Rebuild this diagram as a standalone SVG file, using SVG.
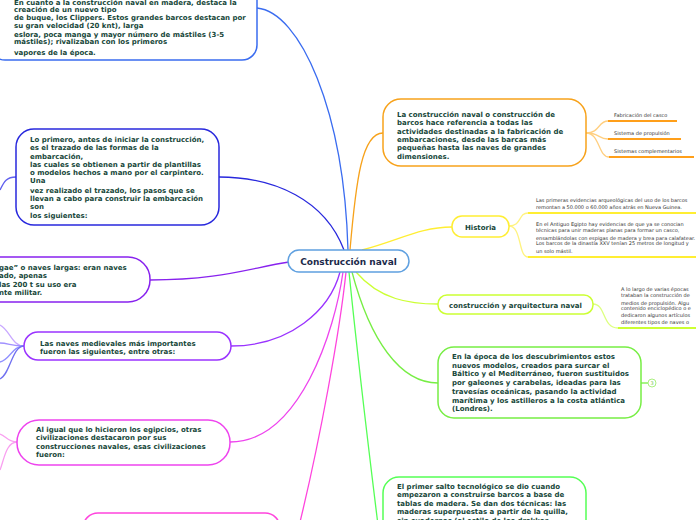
<svg xmlns="http://www.w3.org/2000/svg" width="696" height="520" viewBox="0 0 696 520">
<style>
.box{fill:#fff;stroke-width:1.5}
.t{font-family:"DejaVu Sans",Verdana,sans-serif;font-weight:bold;font-size:7px;fill:#17473a}
.s{font-family:"DejaVu Sans",Verdana,sans-serif;font-size:5px;fill:#333}
.c{fill:none;stroke-width:1.3}
.u{fill:none;stroke-width:2}
</style>
<g id="connectors">
<path class="c" stroke="#3a6cf0" d="M257,8 C300,12 344,110 348,250"/>
<path class="c" stroke="#2828dd" d="M219,177 C275,177 325,200 344,250"/>
<path class="c" stroke="#f7a21b" d="M350,250 C356,180 362,133 383,133"/>
<path class="c" stroke="#ffee33" d="M362,250 C400,240 420,227 452,227"/>
<path class="c" stroke="#8822ee" d="M150,280 C220,280 250,268 289,262"/>
<path class="c" stroke="#9a33ff" d="M231,346 C290,346 330,310 340,272"/>
<path class="c" stroke="#ee44ee" d="M230,442 C300,442 335,330 343,272"/>
<path class="c" stroke="#ff44dd" d="M300,522 C320,440 340,330 346,272"/>
<path class="c" stroke="#ccff33" d="M356,272 C380,300 410,304 438,304"/>
<path class="c" stroke="#77ee44" d="M352,272 C370,340 400,383 438,383"/>
<path class="c" stroke="#55ff55" d="M349,272 C360,380 370,460 378,525"/>
<path class="c" stroke="#6060ee" d="M16,177 C6,177 4,182 0,190"/>
<path class="c" stroke="#c8a8ff" d="M24,346 C12,346 10,330 0,325"/>
<path class="c" stroke="#a090ff" d="M24,346 C12,346 8,343 0,343"/>
<path class="c" stroke="#9090ff" d="M24,346 C12,346 10,360 0,362"/>
<path class="c" stroke="#7070f0" d="M24,346 C12,346 10,375 0,379"/>
<path class="c" stroke="#f9a0f0" d="M17,442 C8,442 6,436 0,434"/>
<path class="c" stroke="#f9a0f0" d="M17,442 C6,442 4,460 0,470"/>
<path class="c" stroke="#ffcf80" d="M586,133 C600,133 598,121 608,121"/>
<path class="c" stroke="#ffcf80" d="M586,133 C600,133 598,139 608,139"/>
<path class="c" stroke="#ffcf80" d="M586,133 C600,133 598,157 609,157"/>
<path class="u" stroke="#ff9f1a" d="M608,121 H677 M608,139 H681 M609,157 H694"/>
<path class="c" stroke="#fff380" d="M509,226 C522,226 518,213 528,213"/>
<path class="c" stroke="#fff380" d="M509,226 C522,226 518,257 528,257"/>
<path class="u" stroke="#ffee33" d="M528,213 H696 M528,257 H696"/>
<path class="c" stroke="#ddff80" d="M593,304 C606,304 602,328 618,328"/>
<path class="u" stroke="#ccff33" d="M618,328 H696"/>
<path class="c" stroke="#77ee44" d="M641,383 H648"/>
</g>
<g id="central">
<rect class="box" stroke="#5fa0e0" x="288" y="250" width="121" height="22" rx="11"/>
<text x="348.5" y="264.5" text-anchor="middle" font-family="DejaVu Sans,Verdana,sans-serif" font-weight="bold" font-size="9" fill="#1c2a4a">Construcción naval</text>
</g>
<g id="n1">
<rect class="box" stroke="#3a6cf0" x="-10" y="-20" width="267" height="80" rx="15"/>
<text class="t"><tspan x="14" y="4.5">En cuanto a la construcción naval en madera, destaca la</tspan><tspan x="14" y="11.5">creación de un nuevo tipo</tspan><tspan x="14" y="20">de buque, los Clippers. Estos grandes barcos destacan por</tspan><tspan x="14" y="27.5">su gran velocidad (20 knt), larga</tspan><tspan x="14" y="36.5">eslora, poca manga y mayor número de mástiles (3-5</tspan><tspan x="14" y="44">mástiles); rivalizaban con los primeros</tspan><tspan x="14" y="54.5">vapores de la época.</tspan></text>
</g>
<g id="n2">
<rect class="box" stroke="#2828dd" x="16" y="129" width="203" height="96" rx="18"/>
<text class="t"><tspan x="30" y="142">Lo primero, antes de iniciar la construcción,</tspan><tspan x="30" y="150">es el trazado de las formas de la</tspan><tspan x="30" y="158.5">embarcación,</tspan><tspan x="30" y="167">las cuales se obtienen a partir de plantillas</tspan><tspan x="30" y="174.5">o modelos hechos a mano por el carpintero.</tspan><tspan x="30" y="183">Una</tspan><tspan x="30" y="192.5">vez realizado el trazado, los pasos que se</tspan><tspan x="30" y="201">llevan a cabo para construir la embarcación</tspan><tspan x="30" y="209">son</tspan><tspan x="30" y="217.5">los siguientes:</tspan></text>
</g>
<g id="n3">
<rect class="box" stroke="#8822ee" x="-40" y="257" width="190" height="45" rx="22"/>
<text class="t"><tspan x="-1" y="269.5">gae”  o naves largas: eran naves</tspan><tspan x="-1" y="278">ado, apenas</tspan><tspan x="-1" y="286.5">las 200 t su uso era</tspan><tspan x="-1" y="294.5">nte militar.</tspan></text>
</g>
<g id="n4">
<rect class="box" stroke="#9a33ff" x="24" y="332" width="207" height="28" rx="14"/>
<text class="t"><tspan x="40" y="345.5">Las naves medievales más importantes</tspan><tspan x="40" y="353.5">fueron las siguientes, entre otras:</tspan></text>
</g>
<g id="n5">
<rect class="box" stroke="#ee44ee" x="17" y="420" width="213" height="45" rx="22"/>
<text class="t"><tspan x="36" y="431.5">Al igual que lo hicieron los egipcios, otras</tspan><tspan x="36" y="440">civilizaciones destacaron por sus</tspan><tspan x="36" y="448.5">construcciones navales, esas civilizaciones</tspan><tspan x="36" y="457">fueron:</tspan></text>
</g>
<g id="n6">
<rect class="box" stroke="#ff44dd" x="83" y="513" width="197" height="40" rx="15"/>
</g>
<g id="nA">
<rect class="box" stroke="#f7a21b" x="383" y="99" width="203" height="67" rx="18"/>
<text class="t"><tspan x="397" y="116.5">La construcción naval o construcción de</tspan><tspan x="397" y="125">barcos hace referencia a todas las</tspan><tspan x="397" y="133.5">actividades destinadas a la fabricación de</tspan><tspan x="397" y="141.5">embarcaciones, desde las barcas más</tspan><tspan x="397" y="150">pequeñas hasta las naves de grandes</tspan><tspan x="397" y="158.5">dimensiones.</tspan></text>
</g>
<g id="nA1"><text class="s" x="614" y="117">Fabricación del casco</text></g>
<g id="nA2"><text class="s" x="614" y="135">Sistema de propulsión</text></g>
<g id="nA3"><text class="s" x="614" y="153">Sistemas complementarios</text></g>
<g id="nB">
<rect class="box" stroke="#ffee33" x="452" y="216" width="57" height="21" rx="10"/>
<text class="t" x="480.5" y="229.5" text-anchor="middle">Historia</text>
</g>
<g id="nB1">
<text class="s"><tspan x="536" y="202.3">Las primeras evidencias arqueológicas del uso de los barcos</tspan><tspan x="536" y="208.5">remontan a 50.000 o 60.000 años atrás en Nueva Guinea.</tspan></text>
</g>
<g id="nB2">
<text class="s"><tspan x="536" y="226">En el Antiguo Egipto hay evidencias de que ya se conocian</tspan><tspan x="536" y="232">técnicas para unir maderas planas para formar un casco,</tspan><tspan x="536" y="239.5">ensamblándolas con espigas de madera y brea para calafatear.</tspan><tspan x="536" y="245.3">Los barcos de la dinastía XXV tenían 25 metros de longitud y</tspan><tspan x="536" y="252.5">un solo mástil.</tspan></text>
</g>
<g id="nC">
<rect class="box" stroke="#ccff33" x="438" y="295" width="155" height="19" rx="9"/>
<text class="t" x="515.5" y="307.5" text-anchor="middle">construcción y arquitectura naval</text>
</g>
<g id="nC1">
<text class="s"><tspan x="621" y="291.3">A lo largo de varias épocas</tspan><tspan x="621" y="297">trataban la construcción de</tspan><tspan x="621" y="304.7">medios de propulsión. Algu</tspan><tspan x="621" y="310.3">contenido enciclopédico o e</tspan><tspan x="621" y="317">dedicaron algunos artículos</tspan><tspan x="621" y="323.7">diferentes tipos de naves o</tspan></text>
</g>
<g id="nD">
<rect class="box" stroke="#77ee44" x="438" y="347" width="203" height="71" rx="16"/>
<text class="t"><tspan x="452" y="359">En la época de los descubrimientos estos</tspan><tspan x="452" y="367.5">nuevos modelos, creados para surcar el</tspan><tspan x="452" y="376.3">Báltico y el Mediterráneo, fueron sustituidos</tspan><tspan x="452" y="385">por galeones y carabelas, ideadas para las</tspan><tspan x="452" y="394">travesías oceánicas, pasando la actividad</tspan><tspan x="452" y="403">marítima y los astilleros a la costa atlántica</tspan><tspan x="452" y="411.3">(Londres).</tspan></text>
<circle cx="652" cy="383" r="4" fill="#fff" stroke="#aaf080" stroke-width="1"/>
<text x="652" y="385" text-anchor="middle" font-family="DejaVu Sans,sans-serif" font-size="5" fill="#77cc55">3</text>
</g>
<g id="nE">
<rect class="box" stroke="#55ff55" x="383" y="477" width="203" height="70" rx="16"/>
<text class="t"><tspan x="397" y="489">El primer salto tecnológico se dio cuando</tspan><tspan x="397" y="497.3">empezaron a construirse barcos a base de</tspan><tspan x="397" y="505.6">tablas de madera. Se dan dos técnicas: las</tspan><tspan x="397" y="514">maderas superpuestas a partir de la quilla,</tspan><tspan x="397" y="522.5">sin cuadernas (al estilo de los drakkar</tspan></text>
</g>
</svg>
